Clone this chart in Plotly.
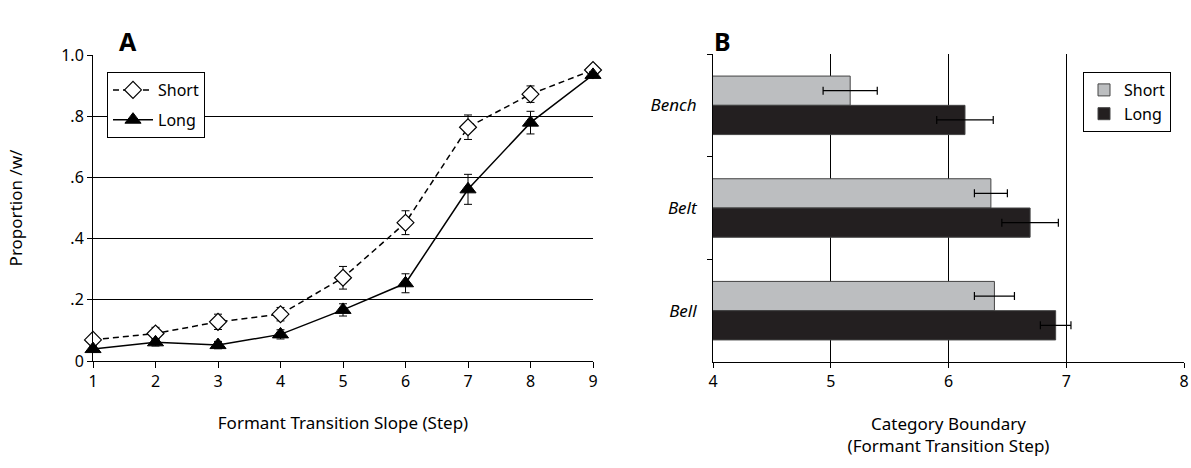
import plotly.graph_objects as go

# ---- Panel A data ----
steps = [1, 2, 3, 4, 5, 6, 7, 8, 9]
short_prop = [0.069, 0.090, 0.128, 0.153, 0.272, 0.452, 0.764, 0.872, 0.951]
short_err = [0.010, 0.020, 0.025, 0.022, 0.037, 0.039, 0.040, 0.027, 0.010]
long_prop = [0.039, 0.061, 0.052, 0.087, 0.167, 0.254, 0.561, 0.779, 0.935]
long_err = [0.010, 0.012, 0.012, 0.015, 0.020, 0.031, 0.049, 0.037, 0.010]

# ---- Panel B data ----
words = ["Bench", "Belt", "Bell"]
short_boundary = [5.165, 6.36, 6.39]
short_b_err = [0.23, 0.14, 0.17]
long_boundary = [6.14, 6.693, 6.91]
long_b_err = [0.24, 0.24, 0.13]

y_ticks_a = [0, 0.2, 0.4, 0.6, 0.8, 1.0]
y_ticktext_a = ["0", ".2", ".4", ".6", ".8", "1.0"]

FONT = "Noto Sans"
W, H = 1191, 468
ML, MR, MT, MB = 93, 7, 54, 106
PW, PH = W - ML - MR, H - MT - MB


def px_x(px):
    return (px - ML) / PW


def px_y(py):
    return (H - MB - py) / PH


fig = go.Figure()

fig.add_trace(go.Scatter(
    x=steps, y=short_prop, name="Short", mode="lines+markers",
    line=dict(color="black", width=1.5, dash="6px,4px"),
    marker=dict(symbol="diamond", size=13, color="white", line=dict(color="black", width=1.2)),
    error_y=dict(type="data", array=short_err, color="black", thickness=1, width=4),
    xaxis="x", yaxis="y", legend="legend", legendgroup="s", cliponaxis=False,
))
fig.add_trace(go.Scatter(
    x=steps, y=long_prop, name="Long", mode="lines+markers",
    line=dict(color="black", width=1.5),
    marker=dict(symbol="triangle-up", size=14, color="black", line=dict(color="black", width=1)),
    error_y=dict(type="data", array=long_err, color="black", thickness=1, width=4),
    xaxis="x", yaxis="y", legend="legend", legendgroup="l", cliponaxis=False,
))

fig.add_trace(go.Bar(
    y=words, x=short_boundary, name="Short", orientation="h",
    marker=dict(color="#bcbec0", line=dict(color="#444444", width=1)),
    error_x=dict(type="data", array=short_b_err, color="black", thickness=1.2, width=4),
    xaxis="x2", yaxis="y2", legend="legend2", legendgroup="bs", base=0,
))
fig.add_trace(go.Bar(
    y=words, x=long_boundary, name="Long", orientation="h",
    marker=dict(color="#231f20", line=dict(color="#444444", width=1)),
    error_x=dict(type="data", array=long_b_err, color="black", thickness=1.2, width=4),
    xaxis="x2", yaxis="y2", legend="legend2", legendgroup="bl", base=0,
))

axis_font = dict(family=FONT, size=16, color="black")
title_font = dict(family=FONT, size=17, color="black")

fig.update_layout(
    width=W, height=H,
    margin=dict(l=ML, r=MR, t=MT, b=MB),
    paper_bgcolor="white", plot_bgcolor="white",
    font=dict(family=FONT, size=16, color="black"),
    barmode="group", bargap=0.43, bargroupgap=0,
    xaxis=dict(
        domain=[0, 500 / PW], range=[1, 9], tickvals=steps,
        showline=True, linecolor="black", linewidth=1,
        ticks="outside", ticklen=6, tickcolor="black",
        showgrid=False, zeroline=False, tickfont=axis_font, automargin=False,
        title=dict(text="Formant Transition Slope (Step)", font=title_font, standoff=25),
    ),
    yaxis=dict(
        domain=[px_y(361), px_y(55)], range=[0, 1.0], tickvals=y_ticks_a, ticktext=y_ticktext_a,
        showline=True, linecolor="black", linewidth=1,
        ticks="outside", ticklen=5, tickcolor="black",
        showgrid=True, gridcolor="black", gridwidth=1, zeroline=False,
        tickfont=axis_font, automargin=False,
        title=dict(text="Proportion /w/", font=title_font, standoff=34),
    ),
    xaxis2=dict(
        domain=[px_x(713), 1], range=[4, 8], tickvals=[4, 5, 6, 7, 8],
        showline=True, linecolor="black", linewidth=1,
        ticks="outside", ticklen=5, tickcolor="black",
        showgrid=True, gridcolor="black", gridwidth=1, zeroline=False,
        tickfont=axis_font, anchor="y2", automargin=False,
        title=dict(text="Category Boundary<br>(Formant Transition Step)", font=title_font, standoff=26),
    ),
    yaxis2=dict(
        domain=[0, 1], anchor="x2", autorange="reversed",
        categoryorder="array", categoryarray=words,
        showline=True, linecolor="black", linewidth=1,
        ticks="outside", ticklen=5, tickcolor="black", tickson="boundaries",
        showgrid=False, zeroline=False, automargin=False,
        tickfont=dict(family=FONT, size=17, color="black", style="italic"),
        ticklabelstandoff=12,
    ),
    legend=dict(
        x=px_x(107), y=px_y(72), xanchor="left", yanchor="top",
        bordercolor="black", borderwidth=1, bgcolor="white",
        font=dict(family=FONT, size=16), tracegroupgap=6, itemwidth=40,
    ),
    legend2=dict(
        x=px_x(1083), y=px_y(72), xanchor="left", yanchor="top",
        bordercolor="black", borderwidth=1, bgcolor="white",
        font=dict(family=FONT, size=16), tracegroupgap=6, traceorder="normal",
    ),
    showlegend=True,
    annotations=[
        dict(text="<b>A</b>", x=px_x(117), y=px_y(22), xref="paper", yref="paper",
             showarrow=False, font=dict(family=FONT, size=25, color="black")),
        dict(text="<b>B</b>", x=px_x(722), y=px_y(22), xref="paper", yref="paper",
             showarrow=False, font=dict(family=FONT, size=25, color="black")),
    ],
)

fig.write_html(
    "out.html",
    config={"displayModeBar": False},
    post_script="document.body.style.margin='0';document.body.style.padding='0';document.body.style.overflow='hidden';",
)
